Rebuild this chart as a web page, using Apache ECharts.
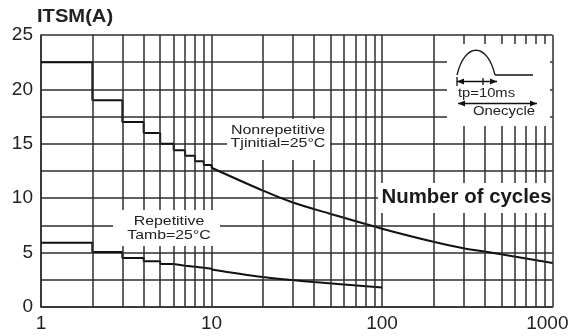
<!DOCTYPE html>
<html><head><meta charset="utf-8">
<script src="https://cdn.jsdelivr.net/npm/echarts@6/dist/echarts.min.js"></script>
<style>html,body{margin:0;padding:0;background:#fff}#c{width:582px;height:336px}</style>
</head><body><div id="c"></div>
<script>
// ---- data ----
const yTickValues = [0, 5, 10, 15, 20, 25];
const xTickLabels = [1, 10, 100, 1000];
const minorGridX = [2,3,4,5,6,7,8,9,20,30,40,50,60,70,80,90,200,300,400,500,600,700,800,900];
const nonrepStepX = [1, 2, 3, 4, 5, 6, 7, 8, 9, 10];
const nonrepStepY = [22.5, 19, 17, 16, 15, 14.4, 13.9, 13.4, 13.05, 12.8];
const nonrepCurveX = [10, 20, 30, 50, 100, 200, 300, 400, 1000];
const nonrepCurveY = [12.8, 10.7, 9.6, 8.55, 7.2, 6.0, 5.4, 5.1, 4.05];
const repStepX = [1, 2, 3, 4, 5, 6, 7, 8, 9, 10];
const repStepY = [5.9, 5.05, 4.5, 4.2, 3.95, 3.8, 3.7, 3.6, 3.52, 3.45];
const repCurveX = [10, 20, 40, 100];
const repCurveY = [3.45, 2.75, 2.3, 1.8];

const FONT = "'Liberation Sans', Arial, sans-serif";
const GRID = '#2e2e2e';
const INK = '#111';
const zip = (xs, ys) => xs.map((x, i) => [x, ys[i]]);

const chart = echarts.init(document.getElementById('c'), null, {renderer: 'canvas'});

function txt(text, x, y, size, opts) {
  opts = opts || {};
  return {
    type: 'text', x: x, y: y, z: 60, scaleX: opts.sx || 1, scaleY: 1,
    style: {
      text: text, x: 0, y: 0, fill: opts.fill || '#222',
      font: (opts.bold ? 'bold ' : '') + size + 'px ' + FONT,
      align: opts.align || 'center', textAlign: opts.align || 'center',
      verticalAlign: 'middle', textVerticalAlign: 'middle',
      lineHeight: opts.lh || size
    }
  };
}
function box(x, y, w, h) {
  return {type: 'rect', z: 50, shape: {x: x, y: y, width: w, height: h}, style: {fill: '#fff'}};
}
function arrowHead(tipX, tipY, dir) {
  const L = 7, H = 3;
  return {type: 'polygon', z: 60, shape: {points: [[tipX, tipY], [tipX - dir * L, tipY - H], [tipX - dir * L, tipY + H]]}, style: {fill: '#111'}};
}

const lineBase = {type: 'line', symbol: 'none', silent: true, animation: false,
  lineStyle: {color: INK, width: 2}, z: 3};

chart.setOption({
  animation: false,
  grid: {left: 41, right: 21, top: 35, bottom: 29, containLabel: false},
  xAxis: {
    type: 'log', logBase: 10, min: 1, max: 1000,
    axisLine: {show: true, lineStyle: {color: GRID, width: 1.5}},
    axisTick: {show: false},
    splitLine: {show: true, lineStyle: {color: GRID, width: 1.5}},
    axisLabel: {
      margin: 7, fontSize: 19, color: '#222', fontFamily: FONT,
      formatter: v => (xTickLabels.indexOf(v) >= 0 ? (v === 1000 ? v + '\u00a0\u00a0' : String(v)) : '')
    }
  },
  yAxis: {
    type: 'value', min: 0, max: 25, interval: 2.5,
    axisLine: {show: true, lineStyle: {color: GRID, width: 1.5}},
    axisTick: {show: false},
    splitLine: {show: true, lineStyle: {color: GRID, width: 1.5}},
    axisLabel: {
      margin: 8, fontSize: 19, color: '#222', fontFamily: FONT,
      formatter: v => (yTickValues.indexOf(v) >= 0 ? String(v) : '')
    }
  },
  series: [
    Object.assign({}, lineBase, {
      name: 'grid', data: [], z: 2,
      markLine: {
        silent: true, symbol: ['none', 'none'], animation: false,
        label: {show: false},
        lineStyle: {color: GRID, width: 1.5, type: 'solid'},
        emphasis: {disabled: true},
        data: minorGridX.map(v => ({xAxis: v}))
      }
    }),
    Object.assign({}, lineBase, {name: 'Nonrepetitive step', step: 'end', data: zip(nonrepStepX, nonrepStepY)}),
    Object.assign({}, lineBase, {name: 'Nonrepetitive', smooth: 0.35, data: zip(nonrepCurveX, nonrepCurveY)}),
    Object.assign({}, lineBase, {name: 'Repetitive step', step: 'end', data: zip(repStepX, repStepY)}),
    Object.assign({}, lineBase, {name: 'Repetitive', smooth: 0.35, data: zip(repCurveX, repCurveY)})
  ],
  graphic: {elements: [
    txt('ITSM(A)', 37, 17.5, 18, {bold: true, align: 'left', sx: 1.12}),
    box(227, 119, 103, 41),
    txt('Nonrepetitive\nTjinitial=25°C', 278, 137, 13, {sx: 1.23, lh: 12.5}),
    box(113, 210, 107, 36),
    txt('Repetitive\nTamb=25°C', 169, 228, 13, {sx: 1.22, lh: 14}),
    box(378, 183, 174, 30),
    txt('Number of cycles', 466.5, 197.5, 20, {bold: true, sx: 1.02, fill: '#1a1a1a'}),
    box(447, 44, 103, 82),
    {type: 'bezierCurve', z: 60, shape: {x1: 457, y1: 75, x2: 495, y2: 75, cpx1: 465, cpy1: 42, cpx2: 487, cpy2: 42},
      style: {stroke: '#111', lineWidth: 1.3, fill: null}},
    {type: 'line', z: 60, shape: {x1: 495, y1: 75, x2: 533, y2: 75}, style: {stroke: '#111', lineWidth: 1.3}},
    {type: 'line', z: 60, shape: {x1: 457, y1: 81.5, x2: 497, y2: 81.5}, style: {stroke: '#111', lineWidth: 1.5}},
    arrowHead(457, 81.5, -1), arrowHead(497, 81.5, 1),
    {type: 'line', z: 60, shape: {x1: 457, y1: 77, x2: 457, y2: 86}, style: {stroke: '#111', lineWidth: 1.3}},
    {type: 'line', z: 60, shape: {x1: 483, y1: 78, x2: 483, y2: 85}, style: {stroke: '#111', lineWidth: 1.3}},
    txt('tp=10ms', 486.5, 93.5, 12, {sx: 1.23}),
    {type: 'line', z: 60, shape: {x1: 458, y1: 103.5, x2: 537, y2: 103.5}, style: {stroke: '#111', lineWidth: 1.5}},
    arrowHead(458, 103.5, -1), arrowHead(537, 103.5, 1),
    txt('Onecycle', 504, 111.5, 12, {sx: 1.24})
  ]}
});
</script>
</body></html>
